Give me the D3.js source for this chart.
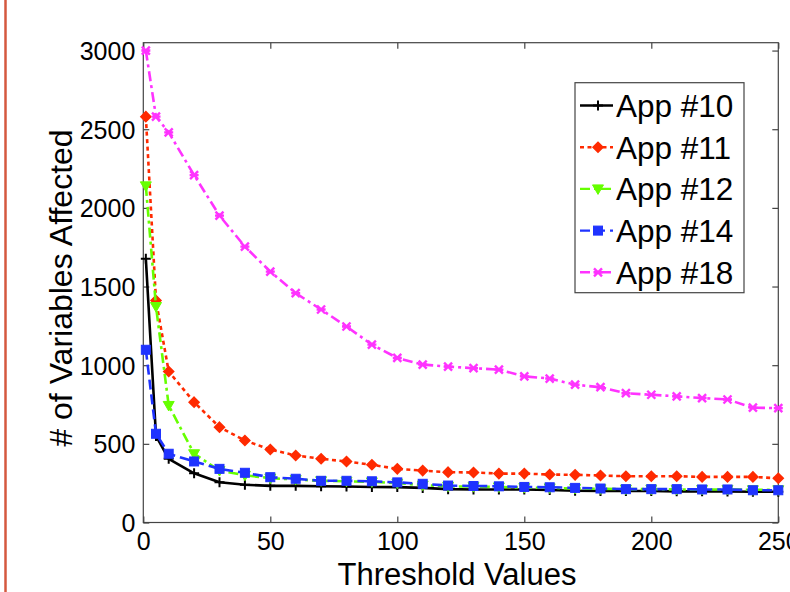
<!DOCTYPE html>
<html><head><meta charset="utf-8">
<script src="https://cdn.jsdelivr.net/npm/d3@7/dist/d3.min.js"></script>
<style>
html,body{margin:0;padding:0;background:#fff;overflow:hidden;}
svg{display:block;font-family:"Liberation Sans",Arial,Helvetica,sans-serif;}
</style></head>
<body>
<svg id="chart" width="790" height="592"></svg>
<script>
const thresholds = [1,5,10,20,30,40,50,60,70,80,90,100,110,120,130,140,150,160,170,180,190,200,210,220,230,240,250];
const app10 = [1676,550,405,313,256,240,233,233,230,229,226,225,220,212,210,210,210,207,202,200,200,200,198,198,197,195,195];
const app11 = [2580,1411,960,765,606,521,464,426,405,388,367,341,330,320,318,311,311,305,303,299,294,294,294,290,290,290,281];
const app12 = [2140,1373,744,437,330,300,282,273,265,262,258,250,238,230,228,226,222,220,216,214,212,212,210,210,210,208,208];
const app14 = [1098,564,437,388,341,316,288,278,265,265,262,255,246,235,232,230,226,224,220,216,212,212,212,210,210,205,205];
const app18 = [3000,2580,2480,2208,1951,1754,1595,1458,1354,1246,1131,1046,1004,991,981,972,929,915,876,860,822,812,802,791,782,730,727];
const seriesNames = ["App #10","App #11","App #12","App #14","App #18"];
const xTicks = [0,50,100,150,200,250];
const yTicks = [0,500,1000,1500,2000,2500,3000];

const series = [
  {name: seriesNames[0], values: app10, color: "#000000", dash: null, marker: "plus"},
  {name: seriesNames[1], values: app11, color: "#ff2a00", dash: "4,3.5", marker: "diamond"},
  {name: seriesNames[2], values: app12, color: "#66ff00", dash: "10,4,3,4", marker: "tri"},
  {name: seriesNames[3], values: app14, color: "#1f33ff", dash: "10,5", marker: "square"},
  {name: seriesNames[4], values: app18, color: "#ff33ff", dash: "10,4,3,4", marker: "x"}
];

const svg = d3.select("#chart");
const L = 143.3, R = 778.3, T = 42.7, B = 522.5;
const x = d3.scaleLinear().domain([0,250]).range([L,R]);
const y = d3.scaleLinear().domain([0,3050]).range([B,T]);

// left red page rule
svg.append("line").attr("x1",5.5).attr("x2",5.5).attr("y1",0).attr("y2",592)
  .attr("stroke","#d4583f").attr("stroke-width",2.5);

// axes box
const axisColor = "#444";
svg.append("rect").attr("x",L).attr("y",T).attr("width",R-L).attr("height",B-T)
  .attr("fill","none").attr("stroke",axisColor).attr("stroke-width",1.2);

const tickLen = 6;
const fmt = d3.format("d");
const gx = svg.append("g").attr("transform",`translate(0,${B})`)
  .call(d3.axisBottom(x).tickValues(xTicks).tickFormat(fmt).tickSizeInner(-tickLen).tickSizeOuter(0).tickPadding(10));
const gxt = svg.append("g").attr("transform",`translate(0,${T})`)
  .call(d3.axisTop(x).tickValues(xTicks).tickSizeInner(-tickLen).tickSizeOuter(0).tickFormat(""));
const gy = svg.append("g").attr("transform",`translate(${L},0)`)
  .call(d3.axisLeft(y).tickValues(yTicks).tickFormat(fmt).tickSizeInner(-tickLen).tickSizeOuter(0).tickPadding(8));
const gyr = svg.append("g").attr("transform",`translate(${R},0)`)
  .call(d3.axisRight(y).tickValues(yTicks).tickSizeInner(-tickLen).tickSizeOuter(0).tickFormat(""));
[gx,gxt,gy,gyr].forEach(g=>{
  g.select(".domain").remove();
  g.selectAll(".tick line").attr("stroke",axisColor).attr("stroke-width",1.2);
  g.selectAll("text").attr("fill","#000").style("font-size","25px")
   .style("font-family","'Liberation Sans',Arial,sans-serif");
});
gx.selectAll("text").attr("dy","0.71em");
gy.selectAll("text").attr("dy","0.36em");

// axis titles
svg.append("text").attr("x",457).attr("y",585).attr("text-anchor","middle")
  .style("font-size","31px").text("Threshold Values");
svg.append("text").attr("transform",`translate(72,288) rotate(-90)`)
  .attr("text-anchor","middle").style("font-size","32px").text("# of Variables Affected");

// markers
function drawMarker(g, type, cx, cy, color){
  if(type==="plus"){
    g.append("path").attr("d",`M${cx-5},${cy}H${cx+5}M${cx},${cy-5}V${cy+5}`)
      .attr("stroke",color).attr("stroke-width",2).attr("fill","none");
  } else if(type==="diamond"){
    g.append("path").attr("d",`M${cx},${cy-5}L${cx+5},${cy}L${cx},${cy+5}L${cx-5},${cy}Z`)
      .attr("fill",color).attr("stroke",color).attr("stroke-width",1.5);
  } else if(type==="tri"){
    g.append("path").attr("d",`M${cx-5.5},${cy-4}L${cx+5.5},${cy-4}L${cx},${cy+5.5}Z`)
      .attr("fill",color).attr("stroke",color).attr("stroke-width",1);
  } else if(type==="square"){
    g.append("rect").attr("x",cx-4.5).attr("y",cy-4.5).attr("width",9).attr("height",9)
      .attr("fill",color).attr("stroke",color).attr("stroke-width",1);
  } else if(type==="x"){
    g.append("path").attr("d",`M${cx-4},${cy-4}L${cx+4},${cy+4}M${cx-4},${cy+4}L${cx+4},${cy-4}M${cx-4.5},${cy}H${cx+4.5}`)
      .attr("stroke",color).attr("stroke-width",2.4).attr("fill","none");
  }
}

const line = d3.line().x(d=>x(d[0])).y(d=>y(d[1]));
const plot = svg.append("g");
series.forEach(s=>{
  const pts = thresholds.map((t,i)=>[t,s.values[i]]);
  const g = plot.append("g");
  g.append("path").datum(pts).attr("d",line).attr("fill","none")
    .attr("stroke",s.color).attr("stroke-width",2.6)
    .attr("stroke-dasharray",s.dash).attr("stroke-linejoin","round");
  pts.forEach(p=>drawMarker(g,s.marker,x(p[0]),y(p[1]),s.color));
});

// legend
const lg = svg.append("g");
lg.append("rect").attr("x",575).attr("y",82.7).attr("width",169).attr("height",210)
  .attr("fill","#fff").attr("stroke",axisColor).attr("stroke-width",1.2);
series.forEach((s,i)=>{
  const cy = 105.5 + i*41.7;
  lg.append("line").attr("x1",580).attr("x2",613).attr("y1",cy).attr("y2",cy)
    .attr("stroke",s.color).attr("stroke-width",2.4).attr("stroke-dasharray",s.dash);
  drawMarker(lg,s.marker,598,cy,s.color);
  lg.append("text").attr("x",616).attr("y",cy).attr("dy","0.36em")
    .style("font-size","31.5px").text(s.name);
});
</script>
</body></html>
